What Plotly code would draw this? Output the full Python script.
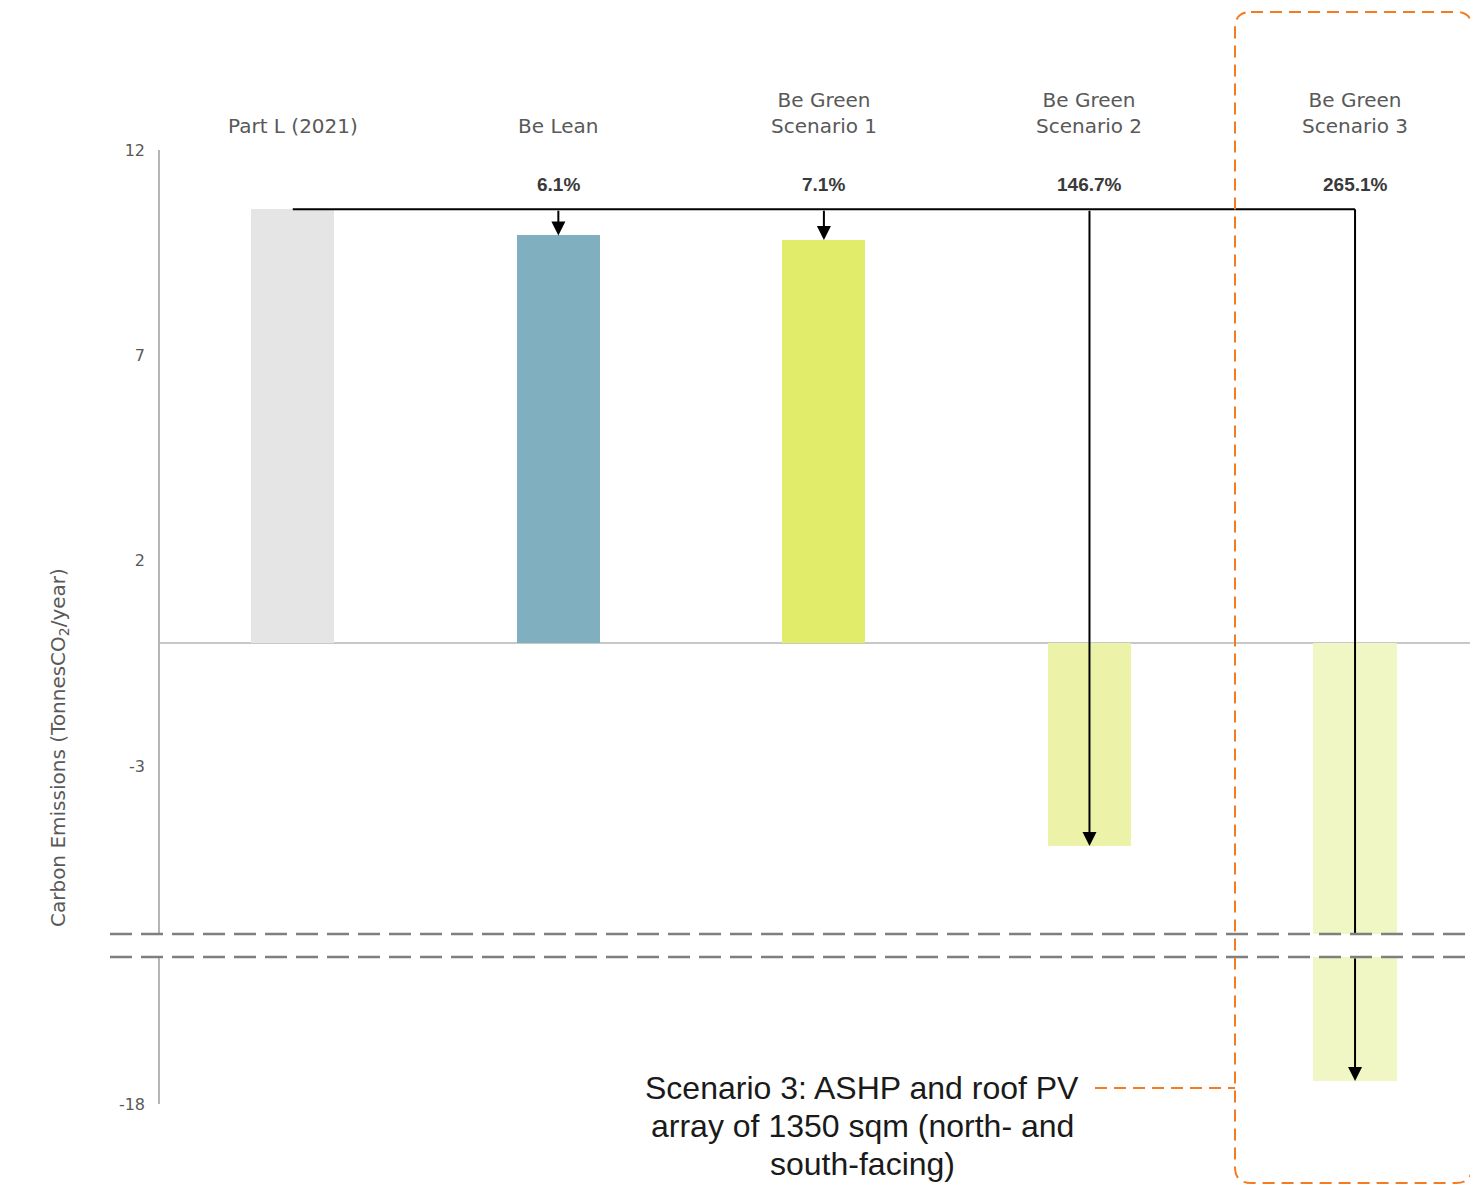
import plotly.graph_objects as go

# ---- data ----
categories = ["Part L (2021)", "Be Lean", "Be Green<br>Scenario 1", "Be Green<br>Scenario 2", "Be Green<br>Scenario 3"]
emissions = [10.56, 9.92, 9.81, -4.94, -17.44]
reductions = ["", "6.1%", "7.1%", "146.7%", "265.1%"]
bar_colors = ["#e5e5e5", "#80afc0", "#e0ec6a", "#ecf3a8", "#f1f7c4"]
top_ticks = [12, 7, 2, -3]
top_tick_labels = ["12", "7", "2", "-3"]
bottom_ticks = [-18]
bottom_tick_labels = ["-18"]
note_lines = ["Scenario 3: ASHP and roof PV", "array of 1350 sqm (north- and", "south-facing)"]

# ---- geometry (reference pixels -> paper); page body adds an 8px offset ----
OFF = 8
W, H = 1478 - OFF, 1185 - OFF
L, R, T, B = 160 - OFF, 0, 150 - OFF, 81
PW, PH = W - L - R, H - T - B
def px(x):
    return (x - 160) / PW
def py(y):
    return (1104 - y) / PH

top_range = [-7.085, 12]
bot_range = [-18, -14.42]
xs = list(range(len(categories)))

fig = go.Figure()
for xa, ya in (("x", "y"), ("x2", "y2")):
    fig.add_trace(go.Bar(x=xs, y=emissions, width=0.313, marker=dict(color=bar_colors, line=dict(width=0)),
                         xaxis=xa, yaxis=ya, showlegend=False, hoverinfo="skip"))

shapes = []
annotations = []
base = emissions[0]
# horizontal connector
shapes.append(dict(type="line", xref="x", yref="y", x0=xs[0], x1=xs[-1], y0=base, y1=base,
                   line=dict(color="black", width=2)))
# arrows
for i in range(1, len(xs)):
    if emissions[i] >= top_range[0]:
        annotations.append(dict(x=xs[i], y=emissions[i], ax=xs[i], ay=base, xref="x", yref="y",
                                axref="x", ayref="y", text="", showarrow=True, arrowhead=2,
                                arrowsize=1.4, arrowwidth=2, arrowcolor="black", standoff=0))
    else:
        shapes.append(dict(type="line", xref="x", yref="y", x0=xs[i], x1=xs[i], y0=base, y1=top_range[0],
                           line=dict(color="black", width=2)))
        annotations.append(dict(x=xs[i], y=emissions[i], ax=xs[i], ay=bot_range[1], xref="x2", yref="y2",
                                axref="x2", ayref="y2", text="", showarrow=True, arrowhead=2,
                                arrowsize=1.4, arrowwidth=2, arrowcolor="black", standoff=0))
    annotations.append(dict(x=xs[i], y=11.15, xref="x", yref="y", text="<b>" + reductions[i] + "</b>",
                            showarrow=False, font=dict(family="Liberation Sans, Arial", size=19, color="#3a3a3a")))

# category labels
for i, c in enumerate(categories):
    annotations.append(dict(x=xs[i], y=py(140), xref="x", yref="paper", text=c, showarrow=False,
                            yanchor="bottom", font=dict(family="DejaVu Sans", size=20, color="#595959")))

# axis break dashes
for yy in (934, 957):
    shapes.append(dict(type="line", xref="paper", yref="paper", x0=px(110), x1=1.0, y0=py(yy), y1=py(yy),
                       line=dict(color="#7f7f7f", width=2.5, dash="22px,9px")))

# orange dashed rounded box
x0, x1, y0, y1 = px(1235), px(1472), py(1183), py(12)
rx, ry = 16 / PW, 16 / PH
path = (f"M {x0+rx} {y1} L {x1-rx} {y1} Q {x1} {y1} {x1} {y1-ry} L {x1} {y0+ry} Q {x1} {y0} {x1-rx} {y0} "
        f"L {x0+rx} {y0} Q {x0} {y0} {x0} {y0+ry} L {x0} {y1-ry} Q {x0} {y1} {x0+rx} {y1} Z")
shapes.append(dict(type="path", xref="paper", yref="paper", path=path,
                   line=dict(color="#f47b20", width=2, dash="12px,7px")))
shapes.append(dict(type="line", xref="paper", yref="paper", x0=px(1095), x1=px(1235), y0=py(1088), y1=py(1088),
                   line=dict(color="#f47b20", width=2, dash="12px,7px")))

for k, line in enumerate(note_lines):
    annotations.append(dict(x=px(862), y=py(1088 + 38 * k), xref="paper", yref="paper", text=line,
                            showarrow=False, xanchor="center", yanchor="middle",
                            font=dict(family="Liberation Sans, Arial", size=32, color="#1a1a1a")))

# y axis title
annotations.append(dict(x=px(44), y=py(748), xref="paper", yref="paper", textangle=-90,
                        text="Carbon Emissions (TonnesCO<sub>2</sub>/year)", showarrow=False,
                        font=dict(family="DejaVu Sans", size=20, color="#595959")))

tickfont = dict(family="DejaVu Sans", size=16, color="#595959")
fig.update_layout(
    width=W, height=H, margin=dict(l=L, r=R, t=T, b=B),
    paper_bgcolor="white", plot_bgcolor="white",
    xaxis=dict(domain=[0, 1], range=[-0.5, 4.463], anchor="y", showticklabels=False, showgrid=False,
               zeroline=False, showline=False, ticks=""),
    xaxis2=dict(domain=[0, 1], matches="x", anchor="y2", showticklabels=False, showgrid=False,
                zeroline=False, showline=False, ticks=""),
    yaxis=dict(domain=[py(934), 1], range=top_range, tickvals=top_ticks, ticktext=top_tick_labels,
               showgrid=False, zeroline=True, zerolinecolor="#c8c8c8", zerolinewidth=2,
               showline=True, linecolor="#b5b5b5", linewidth=1.5,
               ticks="outside", ticklen=10, tickcolor="rgba(0,0,0,0)", tickfont=tickfont),
    yaxis2=dict(domain=[0, py(957)], range=bot_range, tickvals=bottom_ticks, ticktext=bottom_tick_labels,
                showgrid=False, zeroline=False, showline=True, linecolor="#b5b5b5", linewidth=1.5,
                ticks="outside", ticklen=10, tickcolor="rgba(0,0,0,0)", tickfont=tickfont),
    shapes=shapes, annotations=annotations, bargap=0,
)

fig.write_html("out.html")
